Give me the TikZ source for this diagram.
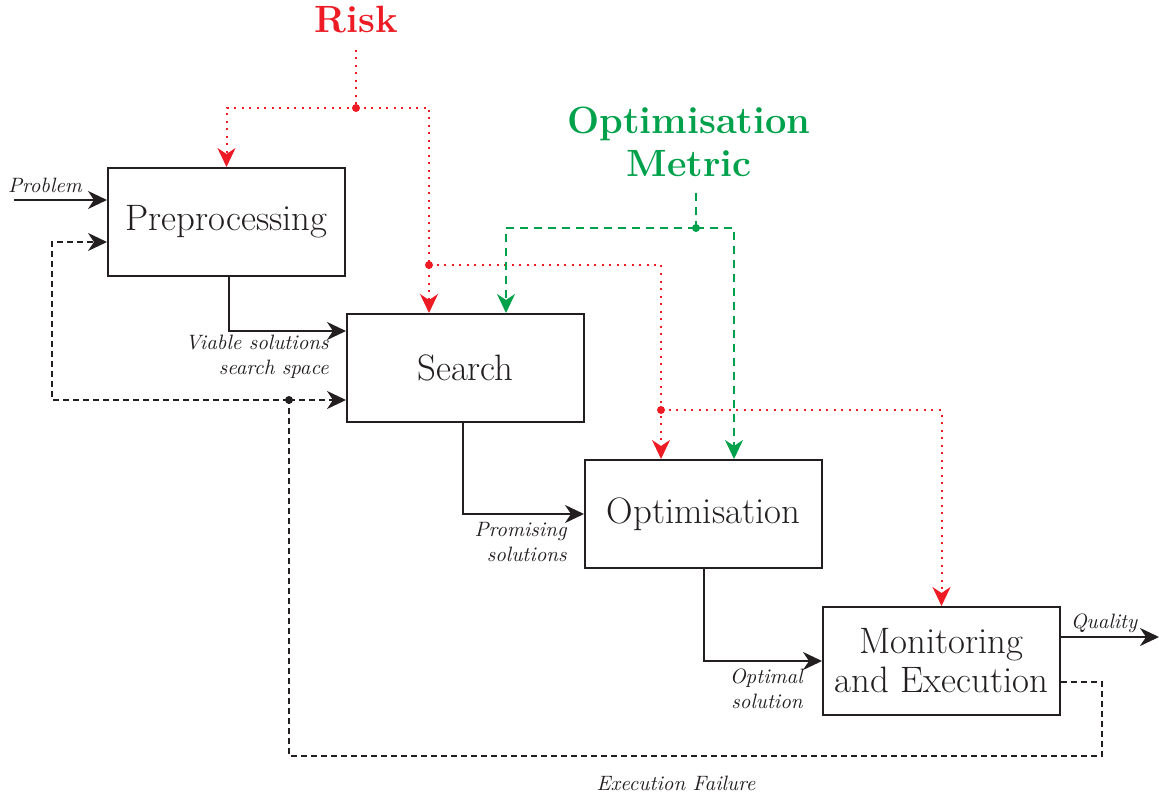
\documentclass[tikz,border=0pt]{standalone}
\usepackage{amsmath}
\usepackage{tikz}
\usetikzlibrary{arrows.meta, positioning}

\definecolor{ink}{RGB}{35,31,32}
\definecolor{riskred}{RGB}{237,28,36}
\definecolor{metricgreen}{RGB}{0,161,75}

\tikzset{
	block/.style={draw=ink, line width=1pt, minimum width=118.5pt, minimum height=54pt, inner sep=0pt, align=center, text=ink, font=\fontsize{18.4}{19.5}\selectfont},
	lbl/.style={text=ink, align=right, inner sep=0pt, font=\fontsize{10.4}{12.5}\selectfont\itshape},
	flow/.style={draw=ink, line width=1pt},
	fail/.style={draw=ink, line width=1pt, dash pattern=on 3pt off 2pt},
	riskline/.style={draw=riskred, line width=1pt, dash pattern=on 1pt off 2.75pt},
	metricline/.style={draw=metricgreen, line width=1pt, dash pattern=on 4pt off 3pt},
	head/.style={inner sep=0pt, align=center, font=\fontsize{19}{21.5}\selectfont\bfseries}
}

\begin{document}
\begin{tikzpicture}[x=0.5pt, y=-0.5pt, >={Stealth[length=9.5pt, width=9pt, inset=3pt]}]
		\useasboundingbox (0,0) rectangle (1159,796);

		\node[block] (pre) at (226.5, 222) {Preprocessing};
		\node[block] (search) at (465.5, 368) {Search};
		\node[block] (opt) at (703.5, 514) {Optimisation};
		\node[block] (mon) at (941.5, 661) {Monitoring\\and Execution};

		\node[head, text=riskred] (risk) at (356, 20) {Risk};
		\node[head, text=metricgreen] (metric) at (689, 142) {Optimisation\\Metric};

		\coordinate (in) at (14, 200);
		\coordinate (out) at (1159, 637);
		\coordinate (rtop) at (356, 50);
		\coordinate (rj) at (356, 108);
		\coordinate (rj2) at (429, 265);
		\coordinate (rj3) at (661, 410);
		\coordinate (mtop) at (696, 193);
		\coordinate (mj) at (696, 228);
		\coordinate (fr) at (1102, 756);
		\coordinate (fl) at (289, 756);
		\coordinate (fj) at (289, 400);
		\coordinate (fb) at (52, 400);

		% main flow
		\draw[flow, ->] (in) -- ([yshift=11pt]pre.west);
		\draw[flow, ->] ([xshift=1pt]pre.south) |- ([yshift=18.5pt]search.west);
		\draw[flow, ->] ([xshift=-1.25pt]search.south) |- (opt.west);
		\draw[flow, ->] (opt.south) |- (mon.west);
		\draw[flow, ->] ([yshift=12pt]mon.east) -- (out);

		% execution failure loop
		\draw[fail] ([yshift=-10.5pt]mon.east) -| (fr) -- (fl) -- (fj);
		\draw[fail, ->] (fj) -- ([yshift=-16pt]search.west);
		\draw[fail, ->] (fj) -- (fb) |- ([yshift=-10pt]pre.west);
		\fill[ink] (fj) circle (2pt);

		% risk
		\draw[riskline] (rtop) -- (rj);
		\draw[riskline, ->] (rj) -| (pre.north);
		\draw[riskline, ->] (rj) -| ([xshift=-18.25pt]search.north);
		\draw[riskline, ->] (rj2) -| ([xshift=-21.25pt]opt.north);
		\draw[riskline, ->] (rj3) -| (mon.north);
		\foreach \j in {rj, rj2, rj3}
			\fill[riskred] (\j) circle (2pt);

		% optimisation metric
		\draw[metricline] (mtop) -- (mj);
		\draw[metricline, ->] (mj) -| ([xshift=20.25pt]search.north);
		\draw[metricline, ->] (mj) -| ([xshift=15.25pt]opt.north);
		\fill[metricgreen] (mj) circle (2pt);

		% labels
		\node[lbl] (problem) at (45, 185) {Problem};
		\node[lbl, anchor=east] (viable) at (329, 357) {Viable solutions\\search space};
		\node[lbl, anchor=east] (promising) at (567, 542) {Promising\\solutions};
		\node[lbl, anchor=east] (optimal) at (803, 689) {Optimal\\solution};
		\node[lbl] (quality) at (1104, 623) {Quality};
		\node[lbl] (failure) at (676, 783) {Execution Failure};
	\end{tikzpicture}
\end{document}
